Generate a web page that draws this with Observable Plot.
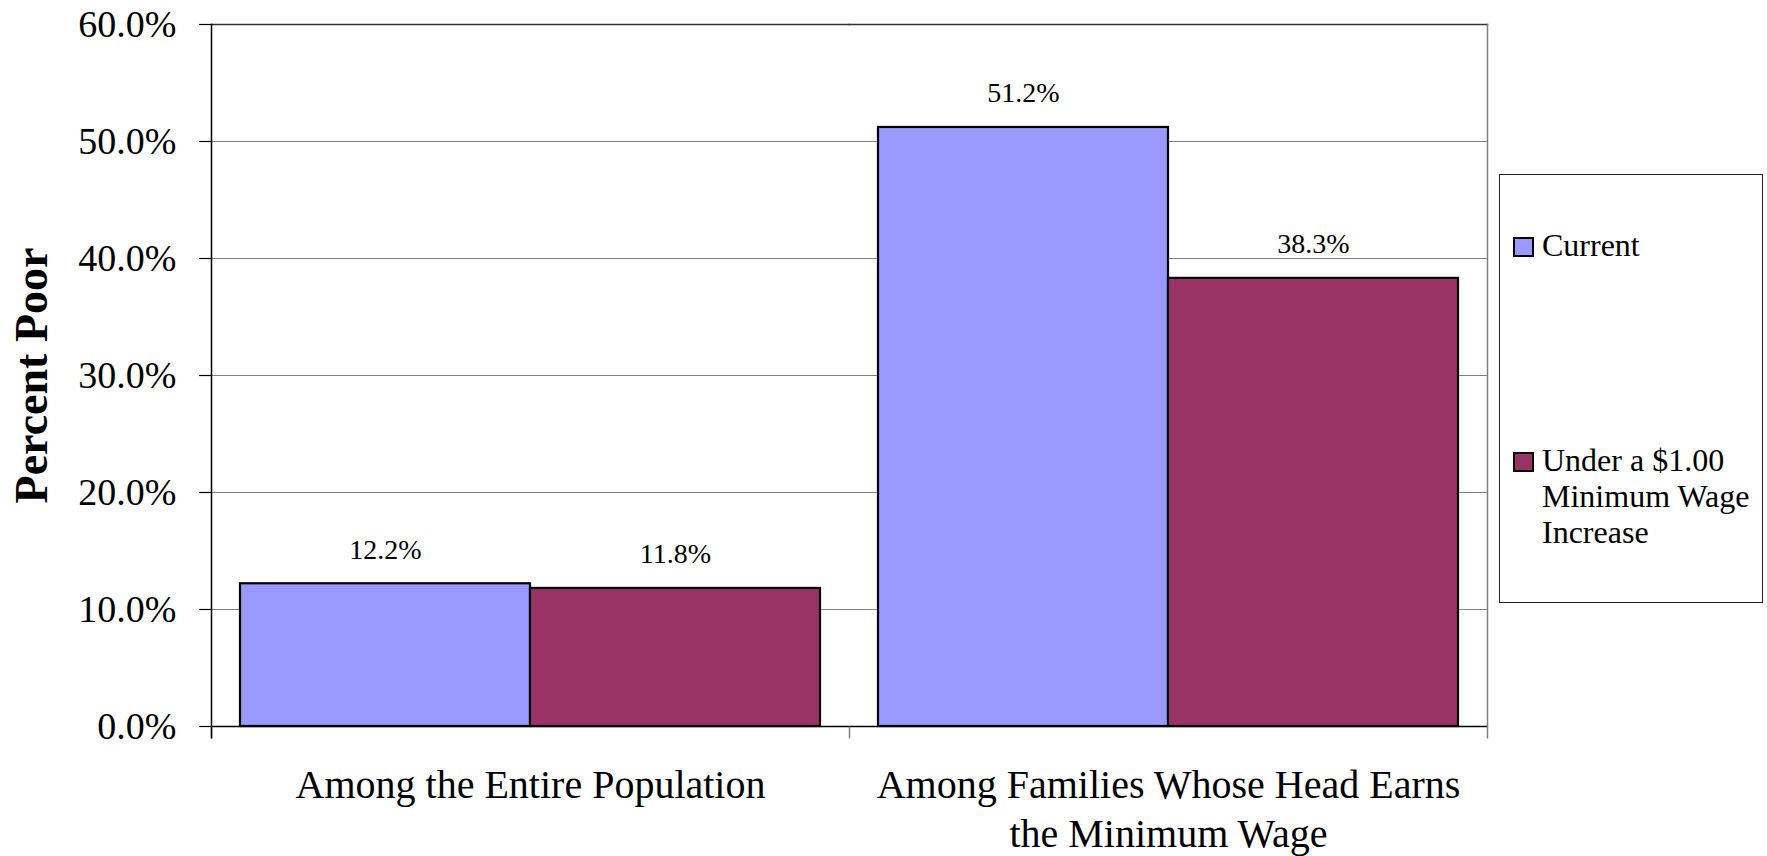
<!DOCTYPE html>
<html>
<head>
<meta charset="utf-8">
<script src="https://cdn.jsdelivr.net/npm/d3@7"></script>
<script src="https://cdn.jsdelivr.net/npm/@observablehq/plot@0.6"></script>
<style>
  html, body { margin: 0; padding: 0; background: #fff; }
  #wrap { position: relative; width: 1767px; height: 856px; font-family: "Liberation Serif", "Times New Roman", serif; }
  #legend {
    position: absolute; left: 1499px; top: 174px; width: 264px; height: 429px;
    box-sizing: border-box; border: 1px solid #222; background: #fff;
  }
  .entry { position: absolute; left: 13px; font-size: 32px; line-height: 36px; color: #000; }
  .swatch { position: absolute; left: 0; width: 21px; height: 20px; box-sizing: border-box; border: 2px solid #000; }
  .label { position: absolute; left: 29px; width: 218px; }
</style>
</head>
<body>
<div id="wrap"></div>
<script>
// Poverty rates, in percent, by population group
const categories = ["Among the Entire Population", "Among Families Whose Head Earns\nthe Minimum Wage"];
const series = ["Current", "Under a $1.00 Minimum Wage Increase"];
const currentRate = [12.2, 51.2];
const increaseRate = [11.8, 38.3];
const seriesColors = ["#9999FF", "#993366"];
const yTicks = [0, 10, 20, 30, 40, 50, 60];

const rows = categories.flatMap((category, i) => [
  {category, series: series[0], value: currentRate[i]},
  {category, series: series[1], value: increaseRate[i]}
]);

const fmt = d => d.toFixed(1) + "%";
// short downward tick drawn under the category axis at group boundaries
const tickDown = {draw(context) { context.moveTo(0, 0); context.lineTo(0, 12); }};

const chart = Plot.plot({
  width: 1767,
  height: 856,
  marginLeft: 211,
  marginRight: 280,
  marginTop: 24,
  marginBottom: 130,
  style: {fontFamily: "'Liberation Serif', 'Times New Roman', serif", fontSize: "38px", color: "#000", background: "#fff"},
  fx: {domain: categories, padding: 0, axis: null},
  x: {domain: series, paddingInner: 0, paddingOuter: 0.1, axis: null},
  y: {domain: [0, 60], axis: null},
  color: {domain: series, range: seriesColors},
  marks: [
    Plot.gridY(yTicks, {stroke: "#808080", strokeOpacity: 1, strokeWidth: 1.2}),
    Plot.frame({anchor: "top", stroke: "#333", strokeWidth: 1.5}),
    Plot.frame({anchor: "right", facetAnchor: "right", stroke: "#808080", strokeWidth: 1.5}),
    Plot.frame({anchor: "left", facetAnchor: "left", stroke: "#000", strokeWidth: 1.5}),
    Plot.axisY(yTicks, {
      tickSize: 12, tickPadding: 23, tickFormat: fmt, fontSize: 38,
      label: null, stroke: "#000", strokeWidth: 1.2
    }),
    Plot.barY(rows, {fx: "category", x: "series", y: "value", fill: "series", stroke: "#000", strokeWidth: 2.2}),
    Plot.ruleY([0], {stroke: "#000", strokeWidth: 1.5}),
    Plot.dot([null], {frameAnchor: "bottom-left", symbol: tickDown, stroke: "#808080", strokeWidth: 1.5}),
    Plot.dot([null], {frameAnchor: "bottom-right", facetAnchor: "right", symbol: tickDown, stroke: "#808080", strokeWidth: 1.5}),
    Plot.dot([null], {frameAnchor: "bottom-left", facetAnchor: "left", symbol: tickDown, stroke: "#000", strokeWidth: 1.5}),
    Plot.text(rows, {
      fx: "category", x: "series", y: "value", text: d => fmt(d.value),
      lineAnchor: "bottom", dy: -25, fontSize: 28
    }),
    Plot.axisFx({anchor: "bottom", tickSize: 0, tickPadding: 37, fontSize: 40, lineHeight: 1.22, label: null}),
    Plot.text(["Percent Poor"], {
      text: d => d, frameAnchor: "left", facetAnchor: "left",
      textAnchor: "middle", lineAnchor: "middle",
      rotate: -90, dx: -179, fontSize: 46, fontWeight: "bold"
    })
  ]
});

const wrap = document.getElementById("wrap");
wrap.appendChild(chart);

// Legend box to the right of the plot
const legend = document.createElement("div");
legend.id = "legend";
const entryTops = [52, 267];
series.forEach((name, i) => {
  const entry = document.createElement("div");
  entry.className = "entry";
  entry.style.top = entryTops[i] + "px";
  const sw = document.createElement("span");
  sw.className = "swatch";
  sw.style.background = seriesColors[i];
  sw.style.top = "10px";
  const lab = document.createElement("span");
  lab.className = "label";
  lab.textContent = name;
  entry.appendChild(sw);
  entry.appendChild(lab);
  legend.appendChild(entry);
});
wrap.appendChild(legend);
</script>
</body>
</html>
